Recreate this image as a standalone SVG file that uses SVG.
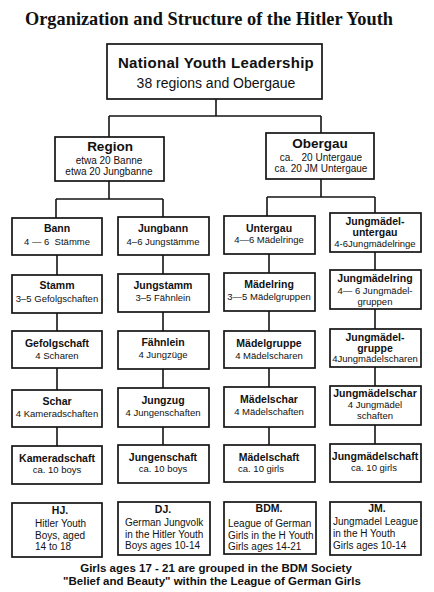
<svg xmlns="http://www.w3.org/2000/svg" width="434" height="592" viewBox="0 0 434 592">
<style>
.bx{fill:#fff;stroke:#151515;stroke-width:1.7}
.ln{fill:none;stroke:#151515;stroke-width:1.6}
text{font-family:"Liberation Sans",Arial,sans-serif;fill:#111;text-anchor:middle}
.ti{font-family:"Liberation Serif","DejaVu Serif",serif;font-weight:bold;font-size:19px}
.h1{font-weight:bold;font-size:15px;letter-spacing:0.3px}
.h2{font-size:14px}
.rt{font-weight:bold;font-size:13.5px}
.rs{font-size:10px}
.t{font-weight:bold;font-size:10.5px}
.s{font-size:9.5px}
.b{font-size:10px;text-anchor:start}
.bt{font-weight:bold;font-size:10.5px}
.ft{font-weight:bold;font-size:11.5px}
</style>
<rect width="434" height="592" fill="#fff"/>
<text class="ti" x="209" y="25" textLength="368" lengthAdjust="spacingAndGlyphs">Organization and Structure of the Hitler Youth</text>

<g id="connectors">
<path class="ln" d="M216,99V116M109,116H321M109,116V137M321,116V133"/>
<path class="ln" d="M109,181V199M56,199H163M56,199V218M163,199V217"/>
<path class="ln" d="M321,179V197M267,197H375M267,197V216M375,197V213"/>
<path class="ln" d="M57,255V275M57,313V331M57,368V390M57,427V446"/>
<path class="ln" d="M163,255V274M163,312V331M163,369V388M163,427V445"/>
<path class="ln" d="M269,254V273M269,311V331M269,368V387M269,427V445"/>
<path class="ln" d="M375,252V270M375,309V329M375,367V386M375,425V444"/>
</g>

<g id="national"><rect class="bx" x="107" y="44" width="215" height="55"/>
<text class="h1" x="216" y="68">National Youth Leadership</text>
<text class="h2" x="216" y="88">38 regions and Obergaue</text></g>

<g id="region"><rect class="bx" x="55" y="137" width="109" height="44"/>
<text class="rt" x="110" y="151">Region</text>
<text class="rs" x="109" y="164">etwa 20 Banne</text>
<text class="rs" x="109" y="175">etwa 20 Jungbanne</text></g>

<g id="obergau"><rect class="bx" x="266" y="133" width="108" height="46"/>
<text class="rt" x="320" y="148">Obergau</text>
<text class="rs" x="321" y="161" xml:space="preserve">ca.   20 Untergaue</text>
<text class="rs" x="321" y="172">ca. 20 JM Untergaue</text></g>

<g id="bann"><rect class="bx" x="12" y="218" width="90" height="37"/>
<text class="t" x="57" y="232">Bann</text>
<text class="s" x="57" y="245" xml:space="preserve">4 — 6  Stämme</text></g>
<g id="jungbann"><rect class="bx" x="118" y="217" width="91" height="38"/>
<text class="t" x="163" y="232">Jungbann</text>
<text class="s" x="163" y="245">4–6 Jungstämme</text></g>
<g id="untergau"><rect class="bx" x="224" y="216" width="91" height="38"/>
<text class="t" x="269" y="232">Untergau</text>
<text class="s" x="269" y="243">4—6 Mädelringe</text></g>
<g id="jmuntergau"><rect class="bx" x="330" y="213" width="91" height="39"/>
<text class="t" x="375" y="225">Jungmädel-</text>
<text class="t" x="375" y="236">untergau</text>
<text class="s" x="375" y="247">4-6Jungmädelringe</text></g>

<g id="stamm"><rect class="bx" x="12" y="275" width="90" height="38"/>
<text class="t" x="57" y="289">Stamm</text>
<text class="s" x="57" y="302">3–5 Gefolgschaften</text></g>
<g id="jungstamm"><rect class="bx" x="118" y="274" width="91" height="38"/>
<text class="t" x="163" y="289">Jungstamm</text>
<text class="s" x="163" y="301">3–5 Fähnlein</text></g>
<g id="maedelring"><rect class="bx" x="224" y="273" width="91" height="38"/>
<text class="t" x="269" y="288">Mädelring</text>
<text class="s" x="269" y="300">3—5 Mädelgruppen</text></g>
<g id="jmring"><rect class="bx" x="330" y="270" width="91" height="39"/>
<text class="t" x="375" y="282">Jungmädelring</text>
<text class="s" x="375" y="294" xml:space="preserve">4— 6 Jungmädel-</text>
<text class="s" x="375" y="305">gruppen</text></g>

<g id="gefolgschaft"><rect class="bx" x="12" y="331" width="90" height="37"/>
<text class="t" x="57" y="347">Gefolgschaft</text>
<text class="s" x="57" y="359">4 Scharen</text></g>
<g id="faehnlein"><rect class="bx" x="118" y="331" width="91" height="38"/>
<text class="t" x="163" y="346">Fähnlein</text>
<text class="s" x="163" y="358">4 Jungzüge</text></g>
<g id="maedelgruppe"><rect class="bx" x="224" y="331" width="91" height="37"/>
<text class="t" x="269" y="347">Mädelgruppe</text>
<text class="s" x="269" y="359">4 Mädelscharen</text></g>
<g id="jmgruppe"><rect class="bx" x="330" y="329" width="91" height="38"/>
<text class="t" x="375" y="341">Jungmädel-</text>
<text class="t" x="375" y="352">gruppe</text>
<text class="s" x="375" y="362">4Jungmädelscharen</text></g>

<g id="schar"><rect class="bx" x="12" y="390" width="90" height="37"/>
<text class="t" x="57" y="405">Schar</text>
<text class="s" x="57" y="417">4 Kameradschaften</text></g>
<g id="jungzug"><rect class="bx" x="118" y="388" width="91" height="39"/>
<text class="t" x="163" y="404">Jungzug</text>
<text class="s" x="163" y="416">4 Jungenschaften</text></g>
<g id="maedelschar"><rect class="bx" x="224" y="387" width="91" height="40"/>
<text class="t" x="269" y="403">Mädelschar</text>
<text class="s" x="269" y="415">4 Mädelschaften</text></g>
<g id="jmschar"><rect class="bx" x="330" y="386" width="91" height="39"/>
<text class="t" x="375" y="397">Jungmädelschar</text>
<text class="s" x="375" y="408">4 Jungmädel</text>
<text class="s" x="375" y="419">schaften</text></g>

<g id="kameradschaft"><rect class="bx" x="12" y="446" width="90" height="38"/>
<text class="t" x="57" y="462">Kameradschaft</text>
<text class="s" x="57" y="473">ca. 10 boys</text></g>
<g id="jungenschaft"><rect class="bx" x="118" y="445" width="91" height="38"/>
<text class="t" x="163" y="461">Jungenschaft</text>
<text class="s" x="163" y="472">ca. 10 boys</text></g>
<g id="maedelschaft"><rect class="bx" x="224" y="445" width="91" height="37"/>
<text class="t" x="269" y="461">Mädelschaft</text>
<text class="s" x="261" y="472">ca. 10 girls</text></g>
<g id="jmschaft"><rect class="bx" x="330" y="444" width="91" height="38"/>
<text class="t" x="375" y="460">Jungmädelschaft</text>
<text class="s" x="374" y="471">ca. 10 girls</text></g>

<g id="hj"><rect class="bx" x="12" y="503" width="90" height="54"/>
<text class="bt" x="60" y="514">HJ.</text>
<text class="b" x="35" y="527">Hitler Youth</text>
<text class="b" x="35" y="539">Boys, aged</text>
<text class="b" x="35" y="550">14 to 18</text></g>
<g id="dj"><rect class="bx" x="118" y="502" width="92" height="53"/>
<text class="bt" x="163" y="513">DJ.</text>
<text class="b" x="125" y="526">German Jungvolk</text>
<text class="b" x="125" y="538">in the Hitler Youth</text>
<text class="b" x="125" y="549">Boys ages 10-14</text></g>
<g id="bdm"><rect class="bx" x="224" y="502" width="92" height="52"/>
<text class="bt" x="269" y="512">BDM.</text>
<text class="b" x="228" y="527">League of German</text>
<text class="b" x="228" y="539">Girls in the H Youth</text>
<text class="b" x="228" y="550">Girls ages 14-21</text></g>
<g id="jm"><rect class="bx" x="330" y="502" width="91" height="53"/>
<text class="bt" x="377" y="512">JM.</text>
<text class="b" x="333" y="525">Jungmadel League</text>
<text class="b" x="333" y="537">in the H Youth</text>
<text class="b" x="333" y="549">Girls ages 10-14</text></g>

<text class="ft" x="216" y="572">Girls ages 17 - 21 are grouped in the BDM Society</text>
<text class="ft" x="212" y="585">"Belief and Beauty" within the League of German Girls</text>
</svg>
